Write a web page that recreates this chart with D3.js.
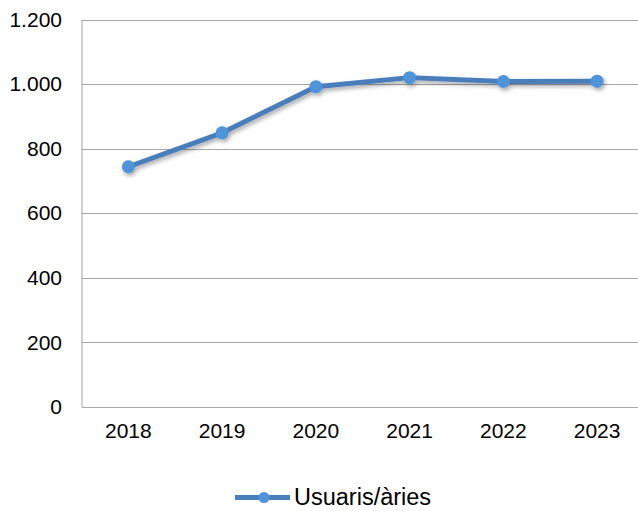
<!DOCTYPE html>
<html><head><meta charset="utf-8">
<script src="https://cdn.jsdelivr.net/npm/d3@7/dist/d3.min.js"></script>
<style>body{margin:0;background:#fff}svg{display:block}</style>
</head><body>
<script>
const years = ["2018","2019","2020","2021","2022","2023"];
const usuaris = [744, 849, 992, 1020, 1008, 1009];
const yTicks = [0,200,400,600,800,1000,1200];
const seriesName = "Usuaris/àries";

const W=638,H=511;
const m={left:81.5,top:19.5,right:644,bottom:407};
const FONT="Liberation Sans, Arial, sans-serif";
const svg=d3.select("body").append("svg").attr("width",W).attr("height",H);
const defs=svg.append("defs");
const f=defs.append("filter").attr("id","sh").attr("x","-50%").attr("y","-50%").attr("width","200%").attr("height","200%");
f.append("feDropShadow").attr("dx",1.5).attr("dy",2.5).attr("stdDeviation",2).attr("flood-color","#000").attr("flood-opacity",0.35);

const x=d3.scaleBand().domain(years).range([m.left,m.right]);
const y=d3.scaleLinear().domain([0,1200]).range([m.bottom,m.top]);
const fmt=v=>d3.format(",")(v).replace(/,/g,".");

const grid=svg.append("g");
grid.selectAll("line").data(yTicks.filter(t=>t>0)).join("line")
  .attr("x1",m.left).attr("x2",m.right).attr("y1",d=>Math.round(y(d))+0.5).attr("y2",d=>Math.round(y(d))+0.5)
  .attr("stroke","#a6a6a6").attr("stroke-width",1);

const ya=svg.append("g").attr("transform",`translate(${m.left},0)`)
  .call(d3.axisLeft(y).tickValues(yTicks).tickFormat(fmt).tickSize(0).tickPadding(19.5));
ya.select(".domain").attr("stroke","#a6a6a6");
ya.selectAll("text").attr("font-family",FONT).attr("font-size",21).attr("fill","#000");

const xa=svg.append("g").attr("transform",`translate(0,${m.bottom})`)
  .call(d3.axisBottom(x).tickSize(0).tickPadding(16));
xa.select(".domain").attr("stroke","#a6a6a6");
xa.selectAll("text").attr("font-family",FONT).attr("font-size",21).attr("fill","#000");

const cx=d=>x(d)+x.bandwidth()/2;
const line=d3.line().x((d,i)=>cx(years[i])).y(d=>y(d));
const g=svg.append("g").attr("filter","url(#sh)");
g.append("path").datum(usuaris).attr("d",line).attr("fill","none").attr("stroke","#4a7ebb").attr("stroke-width",5).attr("stroke-linejoin","round");
g.selectAll("circle").data(usuaris).join("circle")
  .attr("cx",(d,i)=>cx(years[i])).attr("cy",d=>y(d)).attr("r",6.5).attr("fill","#4f93d8");

const lg=svg.append("g");
lg.append("line").attr("x1",235).attr("x2",290).attr("y1",497.5).attr("y2",497.5).attr("stroke","#4a7ebb").attr("stroke-width",5);
lg.append("circle").attr("cx",264).attr("cy",497.5).attr("r",5.5).attr("fill","#4f93d8");
lg.append("text").attr("x",294).attr("y",505).text(seriesName)
  .attr("font-family",FONT).attr("font-size",23.5).attr("fill","#000");
</script>
</body></html>
